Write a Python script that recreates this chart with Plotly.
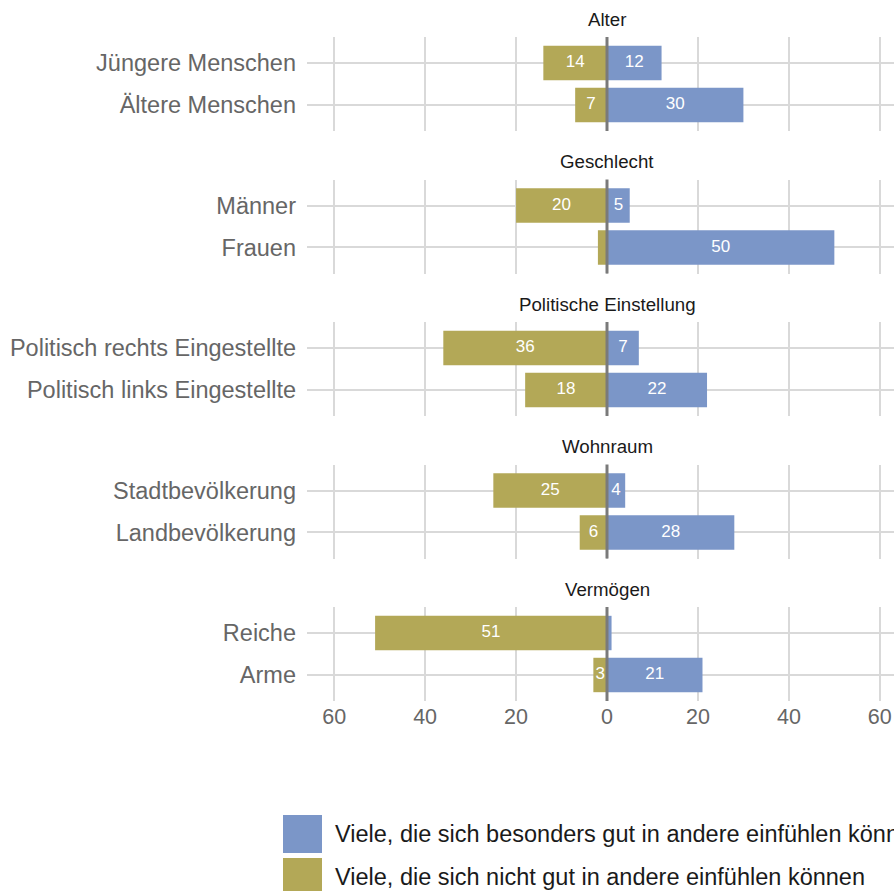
import plotly.graph_objects as go

# ---- data ----
facets = ["Alter", "Geschlecht", "Politische Einstellung", "Wohnraum", "Vermögen"]
categories = [
    ["Jüngere Menschen", "Ältere Menschen"],
    ["Männer", "Frauen"],
    ["Politisch rechts Eingestellte", "Politisch links Eingestellte"],
    ["Stadtbevölkerung", "Landbevölkerung"],
    ["Reiche", "Arme"],
]
gut_values = [[12, 30], [5, 50], [7, 22], [4, 28], [1, 21]]        # blue, right
nicht_values = [[14, 7], [20, 2], [36, 18], [25, 6], [51, 3]]     # olive, left
series_names = [
    "Viele, die sich besonders gut in andere einfühlen können",
    "Viele, die sich nicht gut in andere einfühlen können",
]
tick_vals = [-60, -40, -20, 0, 20, 40, 60]
tick_text = ["60", "40", "20", "0", "20", "40", "60"]

BLUE = "#7B96C8"
OLIVE = "#B3A857"
FONT = "Liberation Sans, Arial, Helvetica, sans-serif"

W, H = 894, 891
PLOT_L = 307
ZERO = 607
PXU = 4.547
fig = go.Figure()

def py(px):
    return 1 - px / H

for k in range(5):
    top = 37 + 142.5 * k
    bot = 131 + 142.5 * k
    ax = "" if k == 0 else str(k + 1)
    xa, ya = "x" + ax, "y" + ax
    cats = categories[k]
    pos = gut_values[k]
    neg = nicht_values[k]
    fig.add_trace(go.Bar(y=cats, x=[-v for v in neg], orientation="h", marker_color=OLIVE,
                         marker_line_width=0, width=0.82, showlegend=False,
                         xaxis=xa, yaxis=ya, hoverinfo="skip"))
    fig.add_trace(go.Bar(y=cats, x=pos, orientation="h", marker_color=BLUE,
                         marker_line_width=0, width=0.82, showlegend=False,
                         xaxis=xa, yaxis=ya, hoverinfo="skip"))
    # labels
    lx, ly, lt = [], [], []
    for c, v in zip(cats, neg):
        if v >= 3:
            lx.append(-v / 2); ly.append(c); lt.append(str(v))
    for c, v in zip(cats, pos):
        if v >= 3:
            lx.append(v / 2); ly.append(c); lt.append(str(v))
    fig.add_trace(go.Scatter(x=lx, y=ly, text=lt, mode="text",
                             textfont=dict(color="white", size=17, family=FONT),
                             showlegend=False, xaxis=xa, yaxis=ya, hoverinfo="skip"))
    last = k == 4
    fig.update_layout(**{
        "xaxis" + ax: dict(
            domain=[PLOT_L / W, 1],
            range=[-(ZERO - PLOT_L) / PXU, (W - ZERO) / PXU],
            tickvals=tick_vals, ticktext=tick_text, showticklabels=last,
            tickfont=dict(size=21.5, color="#666666", family=FONT),
            showgrid=True, gridcolor="#d9d9d9", gridwidth=1.5, zeroline=False,
            showline=False, ticks="", anchor=ya, fixedrange=True,
        ),
        "yaxis" + ax: dict(
            domain=[py(bot), py(top)], type="category", categoryarray=cats,
            range=[1.62, -0.62], showgrid=True, gridcolor="#d9d9d9", gridwidth=1.5,
            tickfont=dict(size=23.5, color="#666666", family=FONT), ticks="",
            ticklabelstandoff=10, showline=False, zeroline=False, anchor=xa, fixedrange=True,
        ),
    })
    # zero reference line
    fig.add_shape(type="line", x0=0, x1=0, y0=0, y1=1, xref=xa, yref=ya + " domain",
                  line=dict(color="#7a7a7a", width=3), layer="above")
    # facet title
    fig.add_annotation(text=facets[k], x=ZERO / W, y=py(19 + 142.5 * k), xref="paper", yref="paper",
                       showarrow=False, font=dict(size=18.7, color="#1a1a1a", family=FONT),
                       xanchor="center", yanchor="middle")

# manual legend
legend_colors = [BLUE, OLIVE]
for i, (name, col) in enumerate(zip(series_names, legend_colors)):
    y_top = 815 + 43 * i
    fig.add_shape(type="rect", xref="paper", yref="paper",
                  x0=283 / W, x1=322 / W, y0=py(y_top + 38), y1=py(y_top),
                  fillcolor=col, line_width=0)
    fig.add_annotation(text=name, x=333 / W, y=py(y_top + 19), xref="paper", yref="paper",
                       showarrow=False, xanchor="left", yanchor="middle",
                       font=dict(size=23.5, color="#1a1a1a", family=FONT))

fig.update_layout(
    width=W, height=H, margin=dict(l=0, r=0, t=0, b=0),
    plot_bgcolor="white", paper_bgcolor="white", barmode="overlay",
    showlegend=False, font=dict(family=FONT),
)
fig.write_html("out.html", config={"displayModeBar": False},
               post_script="document.body.style.margin='0px';document.body.style.overflow='hidden';")
